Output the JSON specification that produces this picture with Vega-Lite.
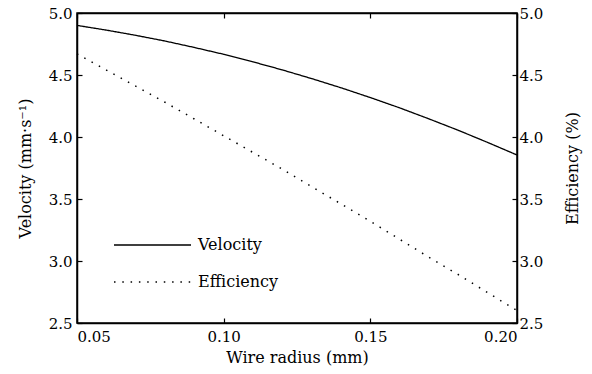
{
  "$schema": "https://vega.github.io/schema/vega-lite/v6.json",
  "width": 440,
  "height": 310,
  "autosize": "none",
  "padding": {"left": 77, "top": 13, "right": 75, "bottom": 51},
  "background": "white",
  "config": {
    "font": "DejaVu Serif",
    "view": {"stroke": "black", "strokeWidth": 1.5},
    "axis": {
      "labelFont": "DejaVu Serif", "labelFontSize": 15, "labelColor": "black",
      "titleFont": "DejaVu Serif", "titleFontSize": 16, "titleFontWeight": "normal", "titleColor": "black",
      "domainColor": "black", "domainWidth": 1.5, "tickColor": "black", "tickWidth": 1.2, "tickSize": -5,
      "grid": false, "labelPadding": 10
    },
    "legend": {"labelFont": "DejaVu Serif", "labelFontSize": 16, "labelColor": "black"}
  },
  "datasets": {
    "vel": [
      {"r": 0.05, "v": 4.900, "series": "Velocity"},
      {"r": 0.06, "v": 4.862, "series": "Velocity"},
      {"r": 0.07, "v": 4.820, "series": "Velocity"},
      {"r": 0.08, "v": 4.774, "series": "Velocity"},
      {"r": 0.09, "v": 4.722, "series": "Velocity"},
      {"r": 0.10, "v": 4.667, "series": "Velocity"},
      {"r": 0.11, "v": 4.606, "series": "Velocity"},
      {"r": 0.12, "v": 4.541, "series": "Velocity"},
      {"r": 0.13, "v": 4.471, "series": "Velocity"},
      {"r": 0.14, "v": 4.397, "series": "Velocity"},
      {"r": 0.15, "v": 4.318, "series": "Velocity"},
      {"r": 0.16, "v": 4.235, "series": "Velocity"},
      {"r": 0.17, "v": 4.146, "series": "Velocity"},
      {"r": 0.18, "v": 4.054, "series": "Velocity"},
      {"r": 0.19, "v": 3.956, "series": "Velocity"},
      {"r": 0.20, "v": 3.855, "series": "Velocity"}
    ],
    "eff": [
      {"r": 0.05, "e": 4.67, "series": "Efficiency"},
      {"r": 0.06, "e": 4.54, "series": "Efficiency"},
      {"r": 0.07, "e": 4.41, "series": "Efficiency"},
      {"r": 0.08, "e": 4.28, "series": "Efficiency"},
      {"r": 0.09, "e": 4.145, "series": "Efficiency"},
      {"r": 0.10, "e": 4.01, "series": "Efficiency"},
      {"r": 0.11, "e": 3.875, "series": "Efficiency"},
      {"r": 0.12, "e": 3.74, "series": "Efficiency"},
      {"r": 0.13, "e": 3.60, "series": "Efficiency"},
      {"r": 0.14, "e": 3.46, "series": "Efficiency"},
      {"r": 0.15, "e": 3.32, "series": "Efficiency"},
      {"r": 0.16, "e": 3.175, "series": "Efficiency"},
      {"r": 0.17, "e": 3.03, "series": "Efficiency"},
      {"r": 0.18, "e": 2.89, "series": "Efficiency"},
      {"r": 0.19, "e": 2.745, "series": "Efficiency"},
      {"r": 0.20, "e": 2.60, "series": "Efficiency"}
    ]
  },
  "layer": [
    {
      "data": {"name": "vel"},
      "mark": {"type": "line", "color": "black", "strokeWidth": 1.3},
      "encoding": {
        "x": {"field": "r", "type": "quantitative", "scale": {"domain": [0.05, 0.2], "nice": false, "zero": false},
              "axis": {"orient": "bottom", "values": [0.05, 0.1, 0.15, 0.2], "format": ".2f", "title": "Wire radius (mm)", "labelPadding": 11,
                       "titleY": 39, "titleBaseline": "alphabetic"}},
        "y": {"field": "v", "type": "quantitative", "scale": {"domain": [2.5, 5], "nice": false, "zero": false},
              "axis": {"orient": "left", "values": [2.5, 3, 3.5, 4, 4.5, 5], "format": ".1f", "title": "Velocity (mm·s⁻¹)",
                       "titleX": -52, "titleY": 155, "titleAngle": -90, "titleBaseline": "middle", "titleAlign": "center"}},
        "strokeDash": {"field": "series", "type": "nominal",
                       "scale": {"domain": ["Velocity", "Efficiency"], "range": [[1, 0], [1.5, 6.8]]},
                       "legend": {"title": null, "orient": "none", "legendX": 36, "legendY": 224, "padding": 0,
                                  "symbolType": "stroke", "symbolSize": 5929, "clipHeight": 16, "rowPadding": 21,
                                  "symbolStrokeWidth": 1.3, "symbolStrokeColor": "black", "labelOffset": 6}}
      }
    },
    {
      "data": {"name": "eff"},
      "mark": {"type": "line", "color": "black", "strokeWidth": 1.5},
      "encoding": {
        "x": {"field": "r", "type": "quantitative", "scale": {"domain": [0.05, 0.2], "nice": false, "zero": false},
              "axis": {"orient": "top", "values": [0.05, 0.1, 0.15, 0.2], "labels": false, "title": null}},
        "y": {"field": "e", "type": "quantitative", "scale": {"domain": [2.5, 5], "nice": false, "zero": false},
              "axis": {"orient": "right", "values": [2.5, 3, 3.5, 4, 4.5, 5], "format": ".1f", "title": "Efficiency (%)", "labelPadding": 7,
                       "titleX": 55, "titleY": 155, "titleAngle": -90, "titleBaseline": "middle", "titleAlign": "center"}},
        "strokeDash": {"field": "series", "type": "nominal",
                       "scale": {"domain": ["Velocity", "Efficiency"], "range": [[1, 0], [1.5, 6.8]]}}
      }
    }
  ],
  "resolve": {"scale": {"y": "independent"}, "axis": {"x": "independent"}}
}
